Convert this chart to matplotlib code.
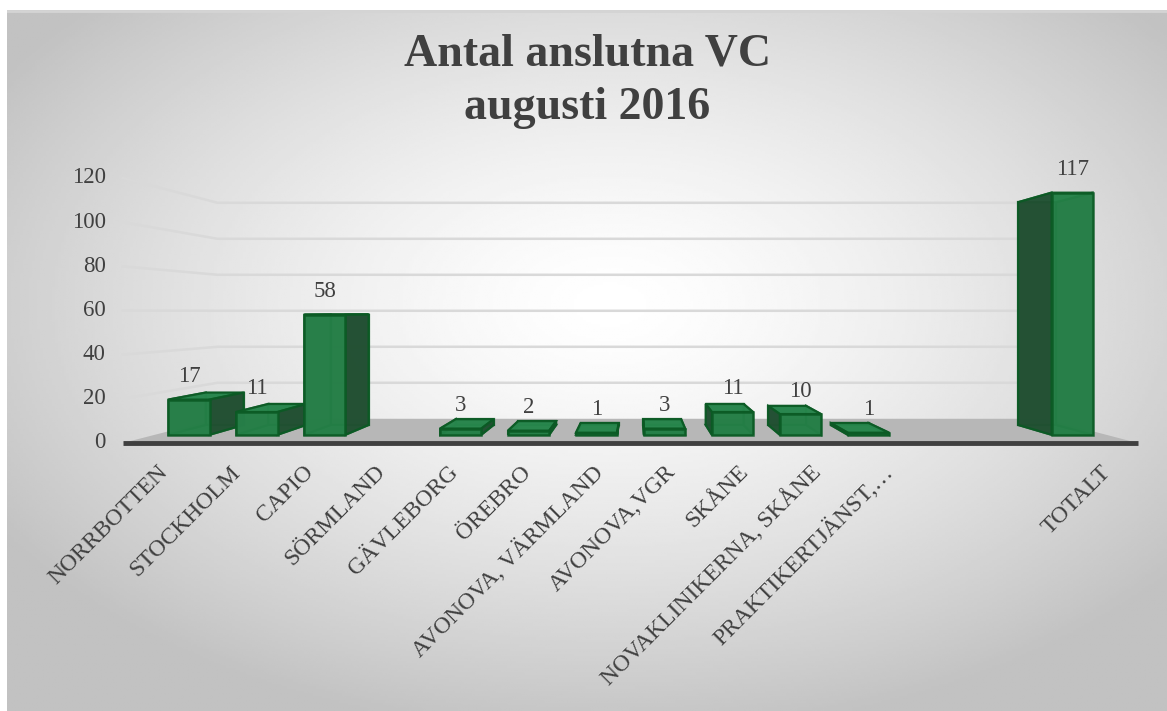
import numpy as np
import matplotlib.pyplot as plt
from matplotlib.patches import Polygon
from matplotlib.transforms import offset_copy

plt.rcParams['font.family'] = ['Liberation Serif', 'DejaVu Serif']

# data
categories = ['NORRBOTTEN', 'STOCKHOLM', 'CAPIO', 'SÖRMLAND', 'GÄVLEBORG', 'ÖREBRO',
              'AVONOVA, VÄRMLAND', 'AVONOVA,VGR', 'SKÅNE', 'NOVAKLINIKERNA, SKÅNE',
              'PRAKTIKERTJÄNST,…', '', '', 'TOTALT']
values = [17, 11, 58, None, 3, 2, 1, 3, 11, 10, 1, None, None, 117]
y_ticks = [0, 20, 40, 60, 80, 100, 120]
title_lines = ['Antal anslutna VC', 'augusti 2016']

# fake 3D: everything is drawn in front-plane data coords and pulled
# toward a vanishing point by a depth factor s (1 = front of floor)
VPX, VPY = 6.566, 59.3
S_BAR_F, S_BAR_B, S_WALL = 0.937, 0.862, 0.815
HALF_W = 0.303

def proj(c, v, s):
    return VPX + (c - VPX) * s, VPY + (v - VPY) * s

W, H = 1167, 711
fig = plt.figure(figsize=(W / 100, H / 100), dpi=100)
fig.patch.set_facecolor('white')

# background gradient
bg = fig.add_axes([7 / W, 0, 1 - 7 / W, (H - 10) / H])
gx, gy = np.meshgrid(np.linspace(0, 1, 400), np.linspace(0, 1, 300))
r = np.sqrt(((gx - 0.52) / 0.62) ** 2 + ((gy - 0.42) / 0.62) ** 2)
shade = 1 - 0.24 * np.clip(r, 0, 1) ** 1.4
bg.imshow(shade, cmap='gray', vmin=0, vmax=1, aspect='auto', extent=[0, 1, 1, 0])
bg.set_xlim(0, 1)
bg.set_ylim(1, 0)
bg.axis('off')
bg.plot([0, 1], [0.002, 0.002], color='#d4d4d4', lw=2)

ax = fig.add_axes([122.75 / W, (H - 443) / H, 1015 / W, 265 / H])
ax.set_xlim(-0.5, 13.5)
ax.set_ylim(0, 120)
ax.axis('off')
ax.patch.set_alpha(0)
n = len(categories)
left, right = -0.5, n - 0.5

# floor
floor = [proj(left, 0, 1), proj(right, 0, 1), proj(right, 0, S_WALL), proj(left, 0, S_WALL)]
ax.add_patch(Polygon(floor, closed=True, fc='#b7b7b7', ec='none', clip_on=False, zorder=1))
ax.plot([left, right], [0, 0], color='#404040', lw=3.5, clip_on=False, zorder=2,
        solid_capstyle='butt')

# gridlines: left wall + back wall
for t in y_ticks[1:]:
    p0 = proj(left, t, 1)
    p1 = proj(left, t, S_WALL)
    p2 = proj(right, t, S_WALL)
    ax.plot([p0[0], p1[0], p2[0]], [p0[1], p1[1], p2[1]], color='#d9d9d9', lw=1.8,
            clip_on=False, zorder=0.5)

# y tick labels
ytr = offset_copy(ax.transData, fig=fig, x=-17, y=0, units='dots')
for t in y_ticks:
    ax.text(left, t, str(t), transform=ytr, ha='right', va='center', fontsize=16.5,
            color='#404040')

# category labels
xtr = offset_copy(ax.transData, fig=fig, x=6, y=-26, units='dots')
for i, lab in enumerate(categories):
    ax.text(i, 0, lab, transform=xtr, rotation=45, rotation_mode='anchor',
            ha='right', va='center', fontsize=17, color='#404040')

# bars
edge = '#0b5a24'
order = sorted(range(n), key=lambda i: -abs(i - VPX))
for i in order:
    v = values[i]
    if v is None:
        continue
    l, rr = i - HALF_W, i + HALF_W
    back = [proj(l, 0, S_BAR_B), proj(rr, 0, S_BAR_B), proj(rr, v, S_BAR_B), proj(l, v, S_BAR_B)]
    bottom = [proj(l, 0, S_BAR_F), proj(rr, 0, S_BAR_F), proj(rr, 0, S_BAR_B), proj(l, 0, S_BAR_B)]
    top = [proj(l, v, S_BAR_F), proj(rr, v, S_BAR_F), proj(rr, v, S_BAR_B), proj(l, v, S_BAR_B)]
    lside = [proj(l, 0, S_BAR_F), proj(l, 0, S_BAR_B), proj(l, v, S_BAR_B), proj(l, v, S_BAR_F)]
    rside = [proj(rr, 0, S_BAR_F), proj(rr, 0, S_BAR_B), proj(rr, v, S_BAR_B), proj(rr, v, S_BAR_F)]
    if i < VPX:
        hidden, visible = lside, rside
    else:
        hidden, visible = rside, lside
    z = 3 + (n - abs(i - VPX)) * 0.01
    for pts, fc in [(back, '#1d5e34'), (bottom, '#1f6a3a'), (hidden, '#1f5a34'),
                    (top, '#2a8a50'), (visible, '#234f33')]:
        ax.add_patch(Polygon(pts, closed=True, fc=fc, ec=edge, lw=1.6, alpha=0.9,
                             clip_on=False, zorder=z))
    # front face through ax.bar
    fx0, fy0 = proj(l, 0, S_BAR_F)
    fx1, fy1 = proj(rr, v, S_BAR_F)
    ax.bar(fx0, fy1 - fy0, width=fx1 - fx0, bottom=fy0, align='edge', color='#27834a',
           edgecolor=edge, lw=1.8, alpha=0.88, clip_on=False, zorder=z + 0.005)
    # value label
    lx, ly = proj(i, v, S_BAR_F)
    ltr = offset_copy(ax.transData, fig=fig, x=0, y=23, units='dots')
    ax.text(lx, ly, str(v), transform=ltr, ha='center', va='center', fontsize=16.5,
            color='#404040', zorder=10)

cx = 0.5 * (1 + 7 / W)
fig.text(cx, (H - 55) / H, title_lines[0], ha='center', va='center',
         fontsize=33, fontweight='bold', color='#404040')
fig.text(cx, (H - 108) / H, title_lines[1], ha='center', va='center',
         fontsize=33, fontweight='bold', color='#404040')

fig.savefig('out.png', dpi=100)
